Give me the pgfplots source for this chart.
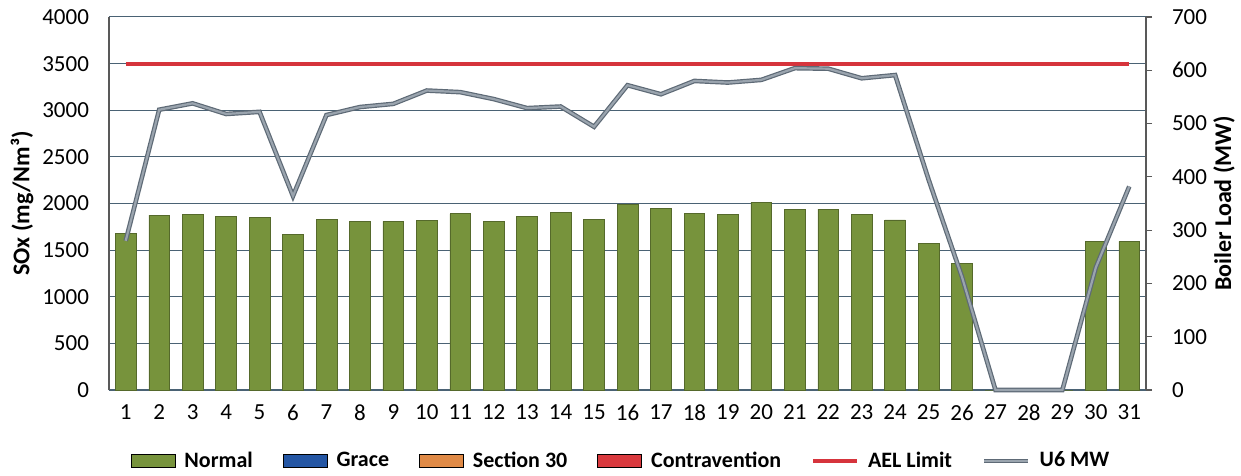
\documentclass[border=0pt]{standalone}
\usepackage{fontspec}
\setmainfont{Carlito}
\usepackage{pgfplots}
\usepackage{pgfplotstable}
\pgfplotsset{compat=1.18}
\definecolor{bargreen}{HTML}{77933C}
\definecolor{baredge}{HTML}{55692B}
\definecolor{graceblue}{HTML}{2456A4}
\definecolor{secorange}{HTML}{E08A46}
\definecolor{contred}{HTML}{D9393E}
\definecolor{aelred}{HTML}{D6343C}
\definecolor{gridc}{HTML}{4A6274}
\definecolor{axisc}{HTML}{595959}
\definecolor{lineedge}{HTML}{5E6A76}
\definecolor{linefill}{HTML}{9AA4AE}
\pgfplotsset{
  barleg/.style={legend image code/.code={\fill[##1] (0pt,-3.25pt) rectangle (22pt,3.25pt);}},
  lineleg/.style={legend image code/.code={\draw[##1] (0pt,0pt) -- (22pt,0pt);}},
}
\pgfplotstableread{
day sox mw
1 1683 280
2 1876 526
3 1887 538
4 1858 518
5 1851 522
6 1665 364
7 1833 516
8 1808 531
9 1808 537
10 1822 562
11 1890 559
12 1805 546
13 1865 529
14 1908 532
15 1833 494
16 1990 572
17 1947 555
18 1894 580
19 1880 577
20 2012 582
21 1940 604
22 1940 603
23 1883 585
24 1824 591
25 1575 395
26 1355 212
27 0 0
28 0 0
29 0 0
30 1593 230
31 1593 382
}\datatable
\begin{document}
\begin{tikzpicture}
\path[use as bounding box] (-54.5pt,-43pt) rectangle (566pt,195pt);
\begin{axis}[
  scale only axis, width=518.5pt, height=186.5pt,
  xmin=0.5, xmax=31.5, ymin=0, ymax=4000,
  xtick={1,...,31}, ytick={0,500,...,4000},
  axis x line*=bottom, axis y line*=left,
  x axis line style={draw=gridc, line width=0.6pt},
  y axis line style={draw=axisc, line width=0.6pt},
  major tick length=0pt,
  ymajorgrids, grid style={draw=gridc, line width=0.5pt},
  tick label style={font=\fontsize{11.5}{13}\selectfont, text=black},
  /pgf/number format/assume math mode=true,
  /pgf/number format/set thousands separator={},
  xticklabel style={yshift=-4pt},
  yticklabel style={xshift=-6.5pt},
  every axis y label/.style={at={(axis description cs:-0.0839,0.5)}, rotate=90, anchor=center, font=\bfseries\fontsize{12}{14}\selectfont},
  ylabel={SOx (mg/Nm³)},
  clip=false,
]
\addplot[ybar, bar width=0.62, fill=bargreen, draw=baredge, line width=0.3pt] table[x=day,y=sox]{\datatable};
\addplot[aelred, line width=2pt] coordinates {(1,3500) (31,3500)};
\end{axis}
\begin{axis}[
  scale only axis, width=518.5pt, height=186.5pt,
  xmin=0.5, xmax=31.5, ymin=0, ymax=700,
  ytick={0,100,...,700},
  axis y line*=right, axis x line=none,
  y axis line style={draw=axisc, line width=0.6pt},
  ytick style={draw=axisc, line width=0.6pt},
  tick align=outside, major tick length=3pt,
  tick label style={font=\fontsize{11.5}{13}\selectfont, text=black},
  /pgf/number format/assume math mode=true,
  yticklabel style={xshift=6.5pt},
  every axis y label/.style={at={(axis description cs:1.0752,0.5)}, rotate=90, anchor=center, font=\bfseries\fontsize{12}{14}\selectfont},
  ylabel={Boiler Load (MW)},
  clip=false,
  legend style={at={(axis description cs:0.4947,-0.19)}, anchor=center, draw=none, fill=none,
    legend columns=6, font=\bfseries\fontsize{11}{13}\selectfont,
    /tikz/every odd column/.append style={column sep=2.5pt},
    /tikz/every even column/.append style={column sep=13pt}},
]
\addlegendimage{barleg, fill=bargreen}
\addlegendentry{Normal}
\addlegendimage{barleg, fill=graceblue}
\addlegendentry{Grace}
\addlegendimage{barleg, fill=secorange}
\addlegendentry{Section 30}
\addlegendimage{barleg, fill=contred}
\addlegendentry{Contravention}
\addlegendimage{lineleg, aelred, line width=2pt}
\addlegendentry{AEL Limit}
\addplot[draw=lineedge, double=linefill, double distance=1.1pt, line width=0.6pt, lineleg] table[x=day,y=mw]{\datatable};
\addlegendentry{U6 MW}
\end{axis}
\end{tikzpicture}
\end{document}
